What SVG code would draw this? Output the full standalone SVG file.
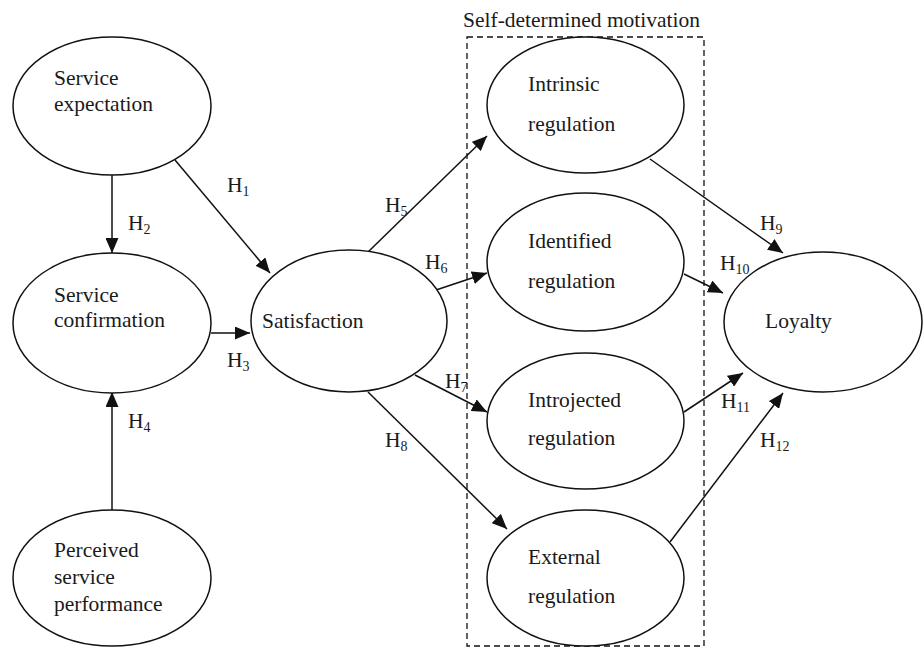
<svg xmlns="http://www.w3.org/2000/svg" width="923" height="648" viewBox="0 0 923 648" font-family="'Liberation Serif', 'Times New Roman', serif">
<style>
text{font-family:'Liberation Serif','Times New Roman',serif;font-size:21.5px;fill:#1a1a1a}
.n{fill:#fff;stroke:#111;stroke-width:1.5}
.c{stroke:#111;stroke-width:1.5;fill:none;marker-end:url(#ah)}
.s{font-size:14px}
</style>
<defs>
<marker id="ah" markerUnits="userSpaceOnUse" markerWidth="15" markerHeight="13" refX="15" refY="6.5" orient="auto"><path d="M0,0 L15,6.5 L0,13 z" fill="#111"/></marker>
</defs>
<rect width="923" height="648" fill="#fff"/>
<g id="group-sdm">
<rect x="467" y="37" width="237" height="609" fill="none" stroke="#111" stroke-width="1.3" stroke-dasharray="6,4"/>
<text x="463" y="27">Self-determined motivation</text>
</g>
<g id="connectors">
<line class="c" x1="112" y1="175" x2="112" y2="253"/>
<line class="c" x1="112" y1="510" x2="112" y2="392"/>
<line class="c" x1="175" y1="160" x2="270" y2="273"/>
<line class="c" x1="211" y1="333" x2="250" y2="333"/>
<line class="c" x1="367" y1="253" x2="487" y2="136"/>
<line class="c" x1="436" y1="290" x2="487" y2="273"/>
<line class="c" x1="415" y1="375" x2="487" y2="412"/>
<line class="c" x1="368" y1="392" x2="507" y2="529"/>
<line class="c" x1="650" y1="159" x2="783" y2="253"/>
<line class="c" x1="684" y1="274" x2="723" y2="293"/>
<line class="c" x1="684" y1="412" x2="743" y2="373"/>
<line class="c" x1="670" y1="542" x2="783" y2="393"/>
<text x="227" y="192">H<tspan class="s" dy="4">1</tspan></text>
<text x="128" y="230">H<tspan class="s" dy="4">2</tspan></text>
<text x="227" y="367">H<tspan class="s" dy="4">3</tspan></text>
<text x="128" y="428">H<tspan class="s" dy="4">4</tspan></text>
<text x="385" y="212">H<tspan class="s" dy="4">5</tspan></text>
<text x="425" y="269">H<tspan class="s" dy="4">6</tspan></text>
<text x="445" y="388">H<tspan class="s" dy="4">7</tspan></text>
<text x="385" y="447">H<tspan class="s" dy="4">8</tspan></text>
<text x="760" y="230">H<tspan class="s" dy="4">9</tspan></text>
<text x="720" y="270">H<tspan class="s" dy="4">10</tspan></text>
<text x="721" y="408">H<tspan class="s" dy="4">11</tspan></text>
<text x="760" y="447">H<tspan class="s" dy="4">12</tspan></text>
</g>
<g id="service-expectation">
<ellipse class="n" cx="112" cy="106" rx="99" ry="69"/>
<text x="54" y="85">Service</text>
<text x="54" y="111">expectation</text>
</g>
<g id="service-confirmation">
<ellipse class="n" cx="112" cy="323" rx="99" ry="70"/>
<text x="54" y="302">Service</text>
<text x="54" y="327">confirmation</text>
</g>
<g id="perceived-service-performance">
<ellipse class="n" cx="112" cy="578" rx="99" ry="68"/>
<text x="54" y="557">Perceived</text>
<text x="54" y="584">service</text>
<text x="54" y="611">performance</text>
</g>
<g id="satisfaction">
<ellipse class="n" cx="349" cy="321" rx="98" ry="71"/>
<text x="262" y="328">Satisfaction</text>
</g>
<g id="intrinsic-regulation">
<ellipse class="n" cx="585.5" cy="105" rx="98.5" ry="68"/>
<text x="528" y="91">Intrinsic</text>
<text x="528" y="131">regulation</text>
</g>
<g id="identified-regulation">
<ellipse class="n" cx="585.5" cy="262" rx="98.5" ry="69"/>
<text x="528" y="248">Identified</text>
<text x="528" y="288">regulation</text>
</g>
<g id="introjected-regulation">
<ellipse class="n" cx="585.5" cy="421" rx="98.5" ry="68"/>
<text x="528" y="407">Introjected</text>
<text x="528" y="445">regulation</text>
</g>
<g id="external-regulation">
<ellipse class="n" cx="585.5" cy="578" rx="98.5" ry="68"/>
<text x="528" y="564">External</text>
<text x="528" y="603">regulation</text>
</g>
<g id="loyalty">
<ellipse class="n" cx="823" cy="322" rx="99" ry="70"/>
<text x="765" y="328">Loyalty</text>
</g>
</svg>
